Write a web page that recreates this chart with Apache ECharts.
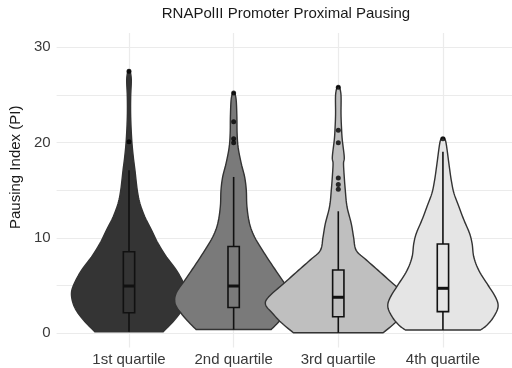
<!DOCTYPE html>
<html>
<head>
<meta charset="utf-8">
<script src="https://cdn.jsdelivr.net/npm/echarts@6/dist/echarts.min.js"></script>
<style>
  html, body { margin: 0; padding: 0; background: #ffffff; }
  #chart { width: 512px; height: 368px; }
</style>
</head>
<body>
<div id="chart"></div>
<script>
// Groups along the x axis
const categories = ['1st quartile', '2nd quartile', '3rd quartile', '4th quartile'];

// Axis ticks
const yLabelValues = [0, 10, 20, 30];
const yGridValues = [0, 5, 10, 15, 20, 25, 30];

// Violin profiles: PI levels and the kernel density half-width at each level
const levels1 = [0.17, 1.05, 2.1, 3.1, 4.2, 5.2, 6.6, 8.0, 9.4, 10.8, 12.2, 13.6, 15.0, 17.1, 18.5, 20.3, 22.7, 24.8, 26.6, 27.6];
const density1 = [0.327, 0.407, 0.486, 0.533, 0.55, 0.524, 0.454, 0.359, 0.279, 0.216, 0.152, 0.105, 0.079, 0.057, 0.041, 0.026, 0.016, 0.016, 0.022, 0.01];

const levels2 = [0.4, 1.05, 2.1, 3.1, 4.2, 5.6, 7.3, 8.7, 10.1, 11.5, 13.3, 15.0, 16.4, 17.8, 19.5, 21.0, 22.7, 24.5, 25.3];
const density2 = [0.359, 0.419, 0.502, 0.559, 0.55, 0.464, 0.359, 0.276, 0.2, 0.152, 0.127, 0.121, 0.105, 0.073, 0.043, 0.033, 0.031, 0.024, 0.008];

const levels3 = [0.06, 1.1, 2.1, 3.0, 3.8, 5.2, 6.6, 7.7, 8.7, 10.1, 11.5, 13.3, 15.0, 16.4, 17.8, 18.5, 20.3, 21.5, 23.0, 25.0, 25.9];
const density3 = [0.429, 0.543, 0.629, 0.695, 0.667, 0.524, 0.381, 0.267, 0.171, 0.146, 0.124, 0.083, 0.067, 0.057, 0.05, 0.057, 0.038, 0.031, 0.026, 0.026, 0.01];

const levels4 = [0.35, 0.87, 1.74, 2.8, 3.8, 5.2, 6.6, 8.0, 9.4, 10.5, 11.9, 13.3, 14.7, 16.1, 17.8, 19.9, 20.5];
const density4 = [0.359, 0.422, 0.486, 0.527, 0.502, 0.422, 0.343, 0.295, 0.279, 0.254, 0.2, 0.152, 0.105, 0.079, 0.057, 0.031, 0.014];

// Boxplot statistics per group
const whiskerLow = [0.17, 0.4, 0.06, 0.35];
const q1 = [2.16, 2.7, 1.74, 2.27];
const median = [4.96, 4.96, 3.78, 4.72];
const q3 = [8.56, 9.1, 6.64, 9.37];
const whiskerHigh = [17.1, 16.4, 12.8, 19.05];

// Outlying genes per group
const outliers1 = [20.1, 27.5];
const outliers2 = [20.0, 20.4, 22.2, 25.2];
const outliers3 = [15.1, 15.6, 16.3, 20.0, 21.3, 25.8];
const outliers4 = [20.4];

const violinLevels = [levels1, levels2, levels3, levels4];
const violinDensity = [density1, density2, density3, density4];
const outlierGroups = [outliers1, outliers2, outliers3, outliers4];

const fills = ['#343434', '#7a7a7a', '#bfbfbf', '#e5e5e5'];
const fontFamily = "'Liberation Sans', Arial, Helvetica, sans-serif";
const boxHalf = 0.054;

const chart = echarts.init(document.getElementById('chart'), null, { renderer: 'canvas' });

// Smooth one side of a violin outline (Catmull-Rom through the pixel points),
// keeping both ends fixed so the trimmed ends stay flat.
function smoothSide(pts) {
  const out = [];
  const n = pts.length;
  const steps = 6;
  for (let k = 0; k < n - 1; k++) {
    const p0 = pts[Math.max(k - 1, 0)], p1 = pts[k], p2 = pts[k + 1], p3 = pts[Math.min(k + 2, n - 1)];
    for (let s = 0; s < steps; s++) {
      const t = s / steps, t2 = t * t, t3 = t2 * t;
      out.push([
        0.5 * (2 * p1[0] + (-p0[0] + p2[0]) * t + (2 * p0[0] - 5 * p1[0] + 4 * p2[0] - p3[0]) * t2 + (-p0[0] + 3 * p1[0] - 3 * p2[0] + p3[0]) * t3),
        0.5 * (2 * p1[1] + (-p0[1] + p2[1]) * t + (2 * p0[1] - 5 * p1[1] + 4 * p2[1] - p3[1]) * t2 + (-p0[1] + 3 * p1[1] - 3 * p2[1] + p3[1]) * t3)
      ]);
    }
  }
  out.push(pts[n - 1]);
  return out;
}

function renderViolin(params, api) {
  const i = params.dataIndex;
  const x = api.value(0);
  const lv = violinLevels[i];
  const dw = violinDensity[i];
  const right = [];
  const left = [];
  for (let k = 0; k < lv.length; k++) {
    right.push(api.coord([x + dw[k], lv[k]]));
    left.push(api.coord([x - dw[k], lv[k]]));
  }
  const points = smoothSide(right).concat(smoothSide(left).reverse());
  return {
    type: 'polygon',
    shape: { points: points },
    style: { fill: fills[i], stroke: '#333333', lineWidth: 1.4, lineJoin: 'round' }
  };
}

function renderBox(params, api) {
  const i = params.dataIndex;
  const x = api.value(0);
  const c = (v, dx) => api.coord([x + (dx || 0), v]);
  const lo = c(whiskerLow[i]), a = c(q1[i], -boxHalf), b = c(q3[i], boxHalf);
  const hi = c(whiskerHigh[i]);
  const mL = c(median[i], -boxHalf), mR = c(median[i], boxHalf);
  const lineStyle = { stroke: '#111111', lineWidth: 1.6 };
  return {
    type: 'group',
    children: [
      { type: 'line', shape: { x1: lo[0], y1: lo[1], x2: lo[0], y2: a[1] }, style: lineStyle },
      { type: 'line', shape: { x1: hi[0], y1: hi[1], x2: hi[0], y2: b[1] }, style: lineStyle },
      { type: 'rect', shape: { x: a[0], y: b[1], width: b[0] - a[0], height: a[1] - b[1] },
        style: { fill: fills[i], stroke: '#111111', lineWidth: 1.6 } },
      { type: 'line', shape: { x1: mL[0], y1: mL[1], x2: mR[0], y2: mR[1] },
        style: { stroke: '#111111', lineWidth: 3 } }
    ]
  };
}

const outlierData = [];
outlierGroups.forEach((g, i) => g.forEach(v => outlierData.push([i + 1, v])));

const option = {
  animation: false,
  backgroundColor: '#ffffff',
  title: {
    text: 'RNAPolII Promoter Proximal Pausing',
    left: 286,
    top: 6,
    padding: 0,
    textAlign: 'center',
    textStyle: { fontFamily: fontFamily, fontSize: 15, fontWeight: 'normal', color: '#1a1a1a' }
  },
  grid: { left: 55, right: 0, top: 33, bottom: 20.4, containLabel: false },
  xAxis: {
    type: 'value',
    min: 0.308,
    max: 4.66,
    axisLine: { show: false },
    axisTick: { show: false, customValues: [1, 2, 3, 4] },
    axisLabel: {
      customValues: [1, 2, 3, 4],
      formatter: v => categories[Math.round(v) - 1],
      fontFamily: fontFamily, fontSize: 15, color: '#3a3a3a', margin: 5
    },
    splitLine: { show: true, lineStyle: { color: '#ebebeb', width: 1.2 } }
  },
  yAxis: {
    type: 'value',
    min: -1.5,
    max: 31.5,
    name: 'Pausing Index (PI)',
    nameLocation: 'middle',
    nameGap: 29,
    nameTextStyle: { fontFamily: fontFamily, fontSize: 15, color: '#1a1a1a', padding: [0, 0, 0, 46] },
    axisLine: { show: false },
    axisTick: { show: false, customValues: yGridValues },
    axisLabel: { customValues: yLabelValues, fontFamily: fontFamily, fontSize: 15, color: '#3a3a3a', margin: 6 },
    splitLine: { show: true, lineStyle: { color: '#ebebeb', width: 1.2 } }
  },
  series: [
    {
      type: 'custom',
      name: 'violin',
      renderItem: renderViolin,
      encode: { x: 0, y: 1 },
      data: categories.map((c, i) => [i + 1, median[i]]),
      z: 2
    },
    {
      type: 'custom',
      name: 'box',
      renderItem: renderBox,
      encode: { x: 0, y: 1 },
      data: categories.map((c, i) => [i + 1, median[i]]),
      z: 3
    },
    {
      type: 'scatter',
      name: 'outliers',
      data: outlierData,
      symbol: 'circle',
      symbolSize: 5,
      itemStyle: { color: '#000000' },
      z: 4
    }
  ]
};

chart.setOption(option);
</script>
</body>
</html>
